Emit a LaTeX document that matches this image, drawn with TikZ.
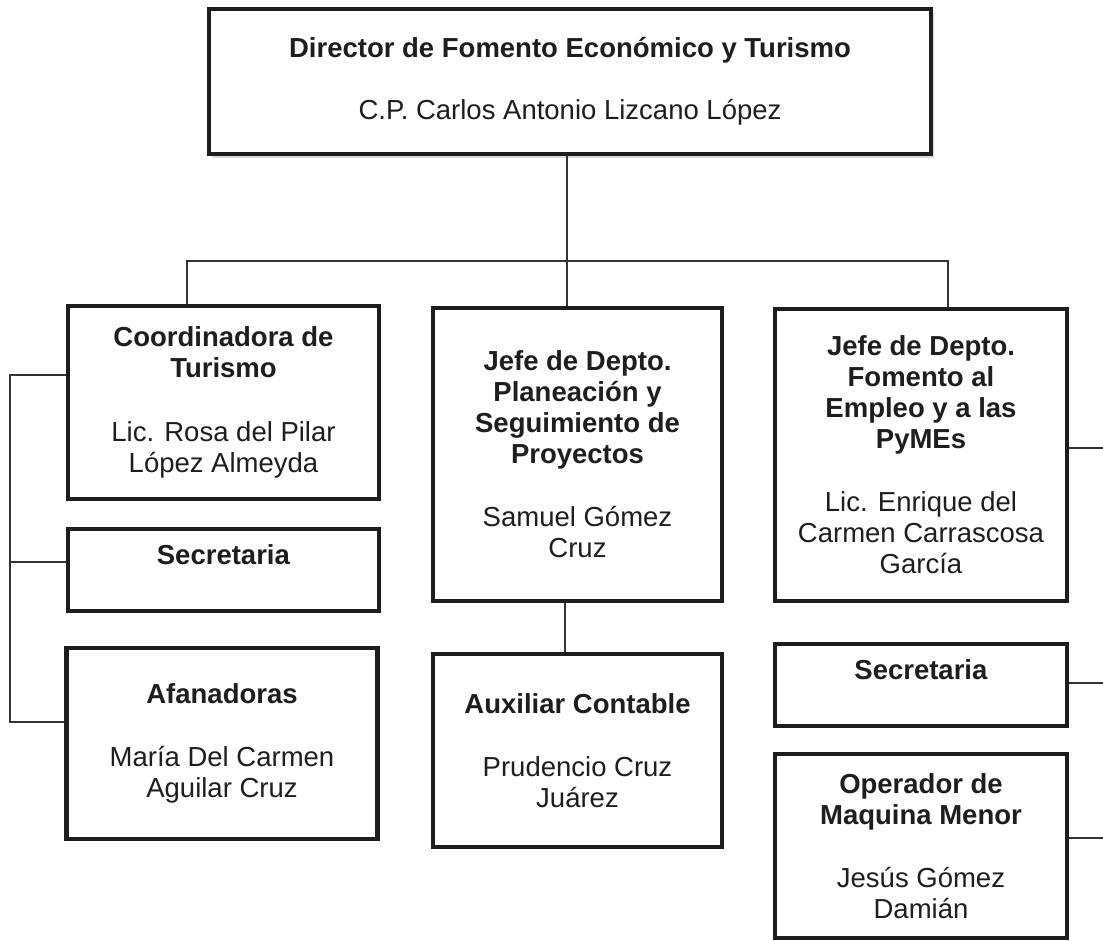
\documentclass[tikz,border=0pt]{standalone}
\usepackage{fontspec}
\setmainfont{Liberation Sans}
\usetikzlibrary{shadows}
\definecolor{ink}{HTML}{1E1E1E}
\definecolor{wire}{HTML}{333333}
\begin{document}
\begin{tikzpicture}[x=1pt,y=-1pt,
  box/.style={draw=ink, line width=4.5pt, fill=white, align=center, inner sep=0pt,
    text=ink, font=\fontsize{27.5}{31}\selectfont},
  topbox/.style={box, drop shadow={shadow xshift=3pt, shadow yshift=-4pt, opacity=0.3}},
  wirel/.style={draw=wire, line width=1.4pt}
]
\useasboundingbox (0,0) rectangle (1103,941);

% top
\node[topbox, minimum width=722pt, minimum height=145pt] (top) at (570,81.5)
  {\textbf{Director de Fomento Económico y Turismo}\\[31pt]C.P. Carlos Antonio Lizcano López};

% left column
\node[box, minimum width=311pt, minimum height=193pt] (l1) at (223.5,402.5)
  {\textbf{Coordinadora de}\\\textbf{Turismo}\\[33pt]Lic. Rosa del Pilar\\López Almeyda};
\node[box, minimum width=311pt, minimum height=82pt] (l2) at (223.5,570)
  {\textbf{Secretaria}\\\mbox{}};
\node[box, minimum width=311pt, minimum height=191pt] (l3) at (222,743.5)
  {\textbf{Afanadoras}\\[32pt]María Del Carmen\\Aguilar Cruz};

% middle column
\node[box, minimum width=289pt, minimum height=293pt] (m1) at (577.5,454.5)
  {\textbf{Jefe de Depto.}\\\textbf{Planeación y}\\\textbf{Seguimiento de}\\\textbf{Proyectos}\\[32pt]Samuel Gómez\\Cruz};
\node[box, minimum width=289pt, minimum height=193pt] (m2) at (577.5,750.5)
  {\textbf{Auxiliar Contable}\\[32pt]Prudencio Cruz\\Juárez};

% right column
\node[box, minimum width=292pt, minimum height=292pt] (r1) at (921,455)
  {\textbf{Jefe de Depto.}\\\textbf{Fomento al}\\\textbf{Empleo y a las}\\\textbf{PyMEs}\\[32pt]Lic. Enrique del\\Carmen Carrascosa\\García};
\node[box, minimum width=292pt, minimum height=82pt] (r2) at (921,685)
  {\textbf{Secretaria}\\\mbox{}};
\node[box, minimum width=292pt, minimum height=184pt] (r3) at (921,846)
  {\textbf{Operador de}\\\textbf{Maquina Menor}\\[32pt]Jesús Gómez\\Damián};

% junctions
\coordinate (jc) at (567,261);
\coordinate (jl) at (187,261);
\coordinate (jr) at (948,261);
\coordinate (lb1) at (10,375);
\coordinate (lb2) at (10,562);
\coordinate (lb3) at (10,722);
\coordinate (rb1) at (1103,448);
\coordinate (rb2) at (1103,683);
\coordinate (rb3) at (1103,838);

% connectors
\draw[wirel] (top.south -| jc) -- (jc);
\draw[wirel] (jl |- l1.north) -- (jl) -- (jr) -- (jr |- r1.north);
\draw[wirel] (jc) -- (jc |- m1.north);
\draw[wirel] (m1.south -| 565,0) -- (m2.north -| 565,0);
\draw[wirel] (l1.west |- lb1) -- (lb1) -- (lb3) -- (l3.west |- lb3);
\draw[wirel] (lb2) -- (l2.west |- lb2);
\draw[wirel] (r1.east |- rb1) -- (rb1);
\draw[wirel] (r2.east |- rb2) -- (rb2);
\draw[wirel] (r3.east |- rb3) -- (rb3);
\end{tikzpicture}
\end{document}
